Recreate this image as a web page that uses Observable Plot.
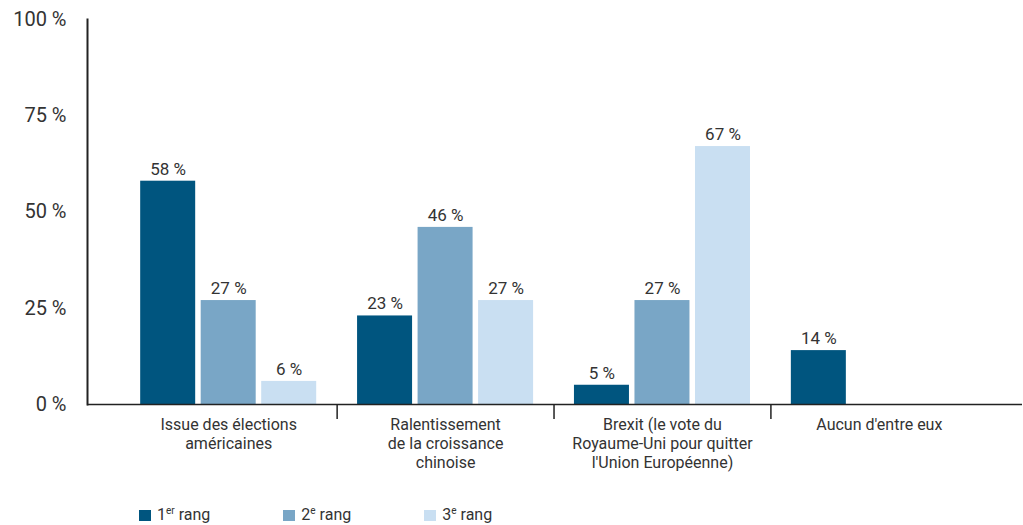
<!DOCTYPE html>
<html>
<head>
<meta charset="utf-8">
<script src="https://cdn.jsdelivr.net/npm/d3@7"></script>
<script src="https://cdn.jsdelivr.net/npm/@observablehq/plot@0.6"></script>
<style>
  body { margin: 0; background: #fff; font-family: Roboto, sans-serif; color: #333; }
  #chart svg { display: block; }
  #legend { display: flex; gap: 73px; padding-left: 139px; padding-top: 25px; font-size: 16px; line-height: 20px; }
  .item { display: flex; align-items: center; }
  .sw { width: 12px; height: 11px; margin-right: 6px; }
  sup { font-size: 10px; line-height: 0; vertical-align: 6px; }
</style>
</head>
<body>
<div id="chart"></div>
<div id="legend"></div>
<script>
// ---- data ----
const categories = [
  "Issue des élections américaines",
  "Ralentissement de la croissance chinoise",
  "Brexit (le vote du Royaume-Uni pour quitter l'Union Européenne)",
  "Aucun d'entre eux"
];
const categoryLabels = [
  "Issue des élections\naméricaines",
  "Ralentissement\nde la croissance\nchinoise",
  "Brexit (le vote du\nRoyaume-Uni pour quitter\nl'Union Européenne)",
  "Aucun d'entre eux"
];
const ranks = ["1er rang", "2e rang", "3e rang"];
const rankNum = ["1", "2", "3"];
const rankSup = ["er", "e", "e"];
const rank1 = [58, 23, 5, 14];
const rank2 = [27, 46, 27, null];
const rank3 = [6, 27, 67, null];
const colors = ["#00557f", "#79a6c6", "#c9dff2"];
const yTicks = [0, 25, 50, 75, 100];

// ---- table ----
const series = [rank1, rank2, rank3];
const rows = [];
categories.forEach((c, gi) => {
  series.forEach((vals, ri) => {
    if (vals[gi] != null) rows.push({gi, ri, category: c, rank: ranks[ri], value: vals[gi]});
  });
});

const step = 0.279, half = 0.1268;
const center = d => d.gi + 0.5 + (d.ri - 1) * step;

const chart = Plot.plot({
  width: 1023,
  height: 480,
  marginLeft: 87,
  marginRight: 1,
  marginTop: 19,
  marginBottom: 76,
  style: {fontFamily: "Roboto, sans-serif", fontSize: "16px", color: "#333", background: "#fff"},
  x: {type: "linear", domain: [-0.151, 4.160], axis: null},
  y: {domain: [0, 100], axis: null},
  color: {domain: ranks, range: colors},
  marks: [
    Plot.axisY({ticks: yTicks, tickSize: 0, tickPadding: 21, tickFormat: d => d + " %", fontSize: 20, label: null}),
    Plot.rectY(rows, {x1: d => center(d) - half, x2: d => center(d) + half, y: "value", fill: "rank"}),
    Plot.text(rows, {x: center, y: "value", text: d => d.value + " %", dy: -12, fontSize: 17}),
    Plot.ruleY([0], {stroke: "#222", strokeWidth: 1.6}),
    Plot.frame({anchor: "left", stroke: "#222", strokeWidth: 2}),
    Plot.ruleX(categories.slice(1), {x: (d, i) => i + 1, y1: () => 0, y2: () => 0, insetBottom: -15, stroke: "#222", strokeWidth: 1.5}),
    Plot.text(categoryLabels, {x: (d, i) => i + 0.5, y: () => 0, text: d => d, lineAnchor: "top", dy: 12, lineHeight: 1.19, fontSize: 16})
  ]
});
document.getElementById("chart").appendChild(chart);

const legend = document.getElementById("legend");
ranks.forEach((r, i) => {
  const item = document.createElement("div");
  item.className = "item";
  item.innerHTML = `<span class="sw" style="background:${colors[i]}"></span><span>${rankNum[i]}<sup>${rankSup[i]}</sup> rang</span>`;
  legend.appendChild(item);
});
</script>
</body>
</html>
